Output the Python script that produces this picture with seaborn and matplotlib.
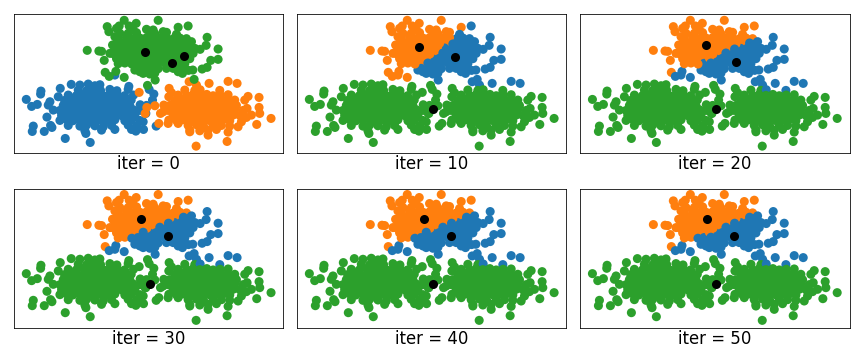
import numpy as np
import pandas as pd
import matplotlib
matplotlib.use('Agg')
import matplotlib.pyplot as plt
import seaborn as sns

blue_pts = [
    (79,298),(95,319),(112,313),(123,273),(122,282),(181,265),(214,253),(141,351),(100,378),(97,394),
    (133,394),(152,376),(156,382),(196,415),(271,427),(258,400),(345,225),(387,259),(448,268),(462,282),
    (458,300),(469,378),(431,388),(408,393),(430,365),(438,340),(150,305),(145,315),(160,330),(175,290),
    (240,255),(265,252),(285,257),(300,254),
    (235,270),(260,272),(281,268),(302,271),(330,268),(351,272),(385,268),
    (205,285),(229,287),(252,284),(270,286),(291,283),(311,287),(329,285),(352,284),(374,287),(401,285),
    (194,301),(216,299),(235,302),(256,299),(275,301),(296,298),(314,302),(336,300),(355,299),(376,302),(394,300),
    (190,316),(209,314),(231,317),(250,315),(271,314),(289,317),(310,315),(331,314),(349,316),(371,315),(390,317),(421,314),(440,316),
    (180,331),(201,329),(219,332),(241,330),(260,329),(281,332),(299,330),(320,331),(341,329),(360,332),(380,330),(400,329),(420,331),
    (185,346),(205,344),(226,347),(244,345),(265,344),(286,347),(304,345),(325,346),(345,344),(366,347),(385,345),(405,346),
    (180,361),(201,359),(219,362),(240,360),(261,359),(280,362),(300,360),(321,361),(345,359),(375,362),(395,360),(420,361),
    (205,376),(240,378),(260,375),(285,377),(310,380),(335,376),(385,375),(410,377),
    (255,392),(305,390),(345,388),(395,388),
]
orange_pts = [
    (418,277),(508,265),(515,278),(568,245),(628,250),(685,244),(712,250),(745,289),(778,292),(778,322),
    (780,340),(814,355),(771,373),(682,424),(589,438),(685,396),(625,405),(570,395),(477,370),(441,322),
    (436,340),(465,317),(490,335),(755,345),(735,300),(742,325),(715,380),(505,370),(535,370),
    (507,290),(492,315),(482,340),(507,360),(740,352),(725,365),
    (590,255),(555,270),(585,271),(601,269),(660,271),
    (535,285),(560,287),(579,284),(600,286),(621,283),(640,287),(661,285),(685,284),
    (525,301),(545,299),(566,302),(584,300),(605,299),(626,302),(644,300),(665,299),(686,302),(705,300),
    (510,316),(530,314),(551,317),(569,315),(590,314),(611,317),(629,315),(650,314),(671,317),(689,315),(710,316),
    (505,331),(525,329),(546,332),(564,330),(585,329),(606,332),(624,330),(645,329),(666,332),(684,330),(705,329),(730,331),
    (520,346),(540,344),(561,347),(579,345),(600,344),(621,347),(639,345),(660,344),(681,347),(700,345),(720,346),
    (530,361),(549,359),(570,362),(591,360),(610,359),(631,362),(649,360),(670,359),(690,362),
    (565,376),(590,374),(611,377),(640,375),(665,376),(690,378),
    (570,390),(600,392),(625,390),(650,388),
]
green_pts = [
    (373,61),(475,61),(322,80),(327,95),(358,78),(350,85),(388,78),(409,70),(535,82),(565,78),
    (622,112),(619,136),(655,147),(655,178),(633,181),(622,202),(607,207),(601,148),(262,151),(297,153),
    (305,154),(313,181),(316,217),(328,229),(348,214),(373,232),(443,256),(466,240),(548,220),(566,211),
    (579,210),(583,238),(330,160),(338,135),
    (345,110),(360,100),(400,90),(440,88),(460,90),(490,95),(555,120),(575,125),
    (405,210),(420,215),(500,205),(535,215),
    (385,100),(410,98),(450,96),(465,101),(500,97),(530,103),
    (355,115),(380,113),(401,116),(420,114),(440,113),(461,116),(480,114),(500,113),(521,116),(540,114),(560,116),
    (350,130),(370,129),(390,132),(410,130),(431,129),(450,132),(470,130),(491,129),(510,132),(530,130),(551,129),(570,131),
    (345,146),(365,144),(386,147),(404,145),(425,144),(446,147),(464,145),(485,144),(506,147),(524,145),(545,144),(565,147),(585,145),
    (340,161),(360,159),(381,162),(399,160),(420,159),(441,162),(459,160),(480,159),(501,162),(519,160),(540,159),(561,162),(580,160),
    (350,176),(370,174),(391,177),(409,175),(430,174),(451,177),(469,175),(490,174),(511,177),(529,175),(550,174),(570,176),
    (355,191),(375,189),(396,192),(414,190),(435,189),(456,192),(474,190),(495,189),(516,192),(534,190),(555,191),
    (415,205),(436,207),(455,204),(475,206),(520,205),(545,207),
    (430,220),(450,222),(465,219),
]

iters = [0, 10, 20, 30, 40, 50]
# centre positions per panel, colour order blue / orange / green
centers_x = [[436, 553, 517], [517, 409, 451], [511, 421, 451], [505, 424, 451], [505, 424, 451], [505, 424, 451]]
centers_y = [[157, 169, 190], [172, 142, 328], [187, 136, 328], [186, 134, 330], [186, 134, 330], [186, 135, 330]]

colors = ['#1f77b4', '#ff7f0e', '#2ca02c']
Y_STRETCH = 2.0  # y unit on the page is half of x

# mix the top blob's draw order so the orange/blue edge does not favour one colour
top_blob = green_pts[::2] + green_pts[1::2]
df = pd.DataFrame(blue_pts + orange_pts + top_blob, columns=['x', 'y'])
start_labels = [0] * len(blue_pts) + [1] * len(orange_pts) + [2] * len(top_blob)


def assign_labels(data, cx, cy):
    # nearest centre, measured in data units
    dx = data['x'].values[:, None] - np.array(cx)
    dy = (data['y'].values[:, None] - np.array(cy)) * Y_STRETCH
    return np.argmin(dx ** 2 + dy ** 2, axis=1)


fig, axes = plt.subplots(2, 3, figsize=(859 / 72, 363 / 72), dpi=72)
fig.subplots_adjust(left=14.3 / 859, right=849.5 / 859, top=1 - 14.3 / 363, bottom=1 - 327.7 / 363,
                    wspace=14 / 269, hspace=35 / 139)

for i, ax in enumerate(axes.flat):
    if i == 0:
        labels = start_labels
    else:
        labels = assign_labels(df, centers_x[i], centers_y[i])
    sns.scatterplot(x=df['x'], y=df['y'], hue=labels, palette=dict(enumerate(colors)),
                    s=82, linewidth=0, legend=False, ax=ax)
    sns.scatterplot(x=centers_x[i], y=centers_y[i], color='black', s=82, linewidth=0, ax=ax, zorder=3)
    ax.set_xlim(43, 851)
    ax.set_ylim(460, 43)
    ax.set_xticks([])
    ax.set_yticks([])
    ax.set_ylabel('')
    ax.set_xlabel(f'iter = {iters[i]}', fontsize=16.5, labelpad=2)

fig.savefig('out.png', dpi=72)
